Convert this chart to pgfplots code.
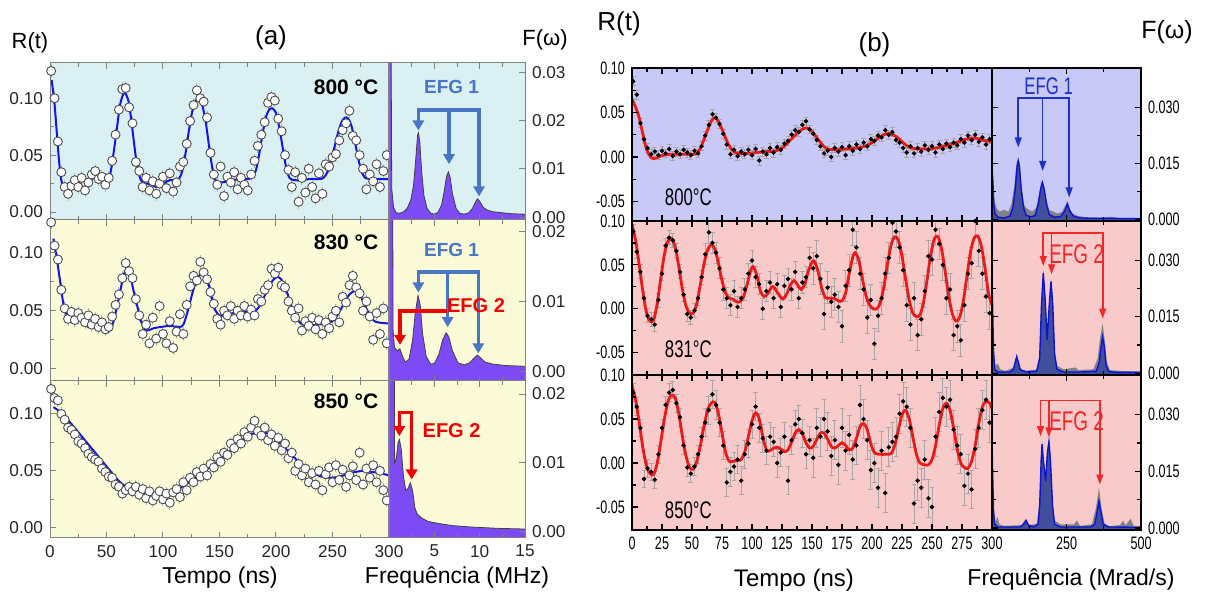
\documentclass[border=0pt]{standalone}
\usepackage{fontspec}
\setmainfont{Liberation Sans}
\newfontfamily\narrowfont[FakeStretch=0.7]{Liberation Sans}
\usepackage{pgfplots}
\usepackage{pgfplotstable}
\pgfplotsset{compat=1.18}
\usetikzlibrary{arrows.meta}

% colours
\definecolor{bgcyan}{RGB}{218,240,242}
\definecolor{bgyellow}{RGB}{252,251,216}
\definecolor{bglav}{RGB}{201,201,248}
\definecolor{bgpink}{RGB}{249,202,202}
\definecolor{specpurple}{RGB}{125,75,245}
\definecolor{fitblue}{RGB}{20,20,230}
\definecolor{fitred}{RGB}{235,25,25}
\definecolor{arrblue}{RGB}{72,118,196}
\definecolor{arrred}{RGB}{240,0,0}
\definecolor{ebarA}{RGB}{170,192,176}
\definecolor{ebarB}{RGB}{170,165,165}
\definecolor{specgray}{RGB}{128,128,135}
\definecolor{specnavy}{RGB}{55,70,160}
\definecolor{specline}{RGB}{10,20,210}
\definecolor{arrblueB}{RGB}{30,50,200}
\definecolor{arrredB}{RGB}{240,40,40}

% ---------- spectra F(omega), panel (a), MHz ----------
\pgfplotstableread[row sep=\\]{nu F\\
0 0.05\\ 0.2 0.05\\ 0.3 0.006\\ 0.5 0.002\\ 0.8 0.0009\\ 1.2 0.0008\\ 1.6 0.0011\\ 2.0 0.0018\\ 2.4 0.0035\\ 2.7 0.0065\\ 2.95 0.012\\ 3.15 0.0170\\ 3.25 0.0175\\ 3.4 0.0155\\ 3.6 0.0095\\ 3.85 0.0045\\ 4.2 0.0018\\ 4.6 0.0008\\ 5.0 0.0006\\ 5.4 0.0010\\ 5.8 0.0025\\ 6.1 0.0055\\ 6.35 0.0085\\ 6.55 0.0094\\ 6.75 0.0082\\ 7.0 0.0048\\ 7.4 0.0018\\ 7.8 0.0008\\ 8.3 0.0006\\ 8.8 0.0009\\ 9.2 0.0018\\ 9.5 0.0030\\ 9.75 0.0038\\ 10.0 0.0033\\ 10.4 0.0020\\ 10.9 0.0014\\ 11.5 0.0011\\ 12.5 0.0009\\ 13.5 0.0007\\ 15 0.0006\\
}\specAa
\pgfplotstableread[row sep=\\]{nu F\\
0 0.05\\ 0.35 0.05\\ 0.45 0.006\\ 0.6 0.0035\\ 0.9 0.0030\\ 1.2 0.0033\\ 1.5 0.0022\\ 1.8 0.0014\\ 2.2 0.0018\\ 2.6 0.0045\\ 2.9 0.0085\\ 3.2 0.0109\\ 3.45 0.0095\\ 3.7 0.0055\\ 4.1 0.0022\\ 4.6 0.0011\\ 5.0 0.0012\\ 5.5 0.0025\\ 5.9 0.0045\\ 6.3 0.0056\\ 6.6 0.0050\\ 7.0 0.0030\\ 7.6 0.0013\\ 8.3 0.0010\\ 8.9 0.0013\\ 9.4 0.0020\\ 9.75 0.0024\\ 10.1 0.0020\\ 10.6 0.0014\\ 11.5 0.0011\\ 13 0.0009\\ 15 0.0008\\
}\specAb
\pgfplotstableread[row sep=\\]{nu F\\
0 0.05\\ 0.55 0.05\\ 0.62 0.010\\ 0.8 0.0105\\ 1.0 0.013\\ 1.15 0.0134\\ 1.35 0.012\\ 1.6 0.0080\\ 1.85 0.0060\\ 2.1 0.0063\\ 2.35 0.0071\\ 2.6 0.0060\\ 2.85 0.0035\\ 3.1 0.0026\\ 3.6 0.0020\\ 4.3 0.0015\\ 5.5 0.0012\\ 7 0.0009\\ 9 0.0007\\ 12 0.0005\\ 15 0.0004\\
}\specAc

% ---------- spectra F(omega), panel (b), Mrad/s ----------
\pgfplotstableread[row sep=\\]{w F\\
0 0.015\\ 3 0.011\\ 8 0.005\\ 15 0.003\\ 25 0.002\\ 40 0.0025\\ 55 0.002\\ 65 0.004\\ 75 0.009\\ 83 0.0155\\ 88 0.0163\\ 93 0.015\\ 99 0.009\\ 107 0.004\\ 115 0.003\\ 125 0.0025\\ 135 0.002\\ 148 0.003\\ 157 0.006\\ 164 0.0095\\ 169 0.0104\\ 175 0.009\\ 183 0.005\\ 192 0.0025\\ 205 0.002\\ 220 0.0015\\ 235 0.002\\ 245 0.0035\\ 253 0.0049\\ 260 0.003\\ 270 0.0015\\ 290 0.0008\\ 320 0.0005\\ 360 0.0004\\ 400 0.0006\\ 420 0.0003\\ 500 0.0003\\
}\specBaGray
\pgfplotstableread[row sep=\\]{w F\\
0 0.014\\ 3 0.010\\ 6 0.004\\ 10 0.0015\\ 20 0.0005\\ 40 0.0003\\ 60 0.0008\\ 70 0.003\\ 78 0.008\\ 84 0.014\\ 88 0.0156\\ 92 0.014\\ 98 0.008\\ 106 0.003\\ 115 0.001\\ 130 0.0006\\ 145 0.001\\ 155 0.004\\ 163 0.008\\ 169 0.0098\\ 175 0.008\\ 183 0.004\\ 192 0.0012\\ 210 0.0005\\ 230 0.0007\\ 243 0.002\\ 253 0.004\\ 262 0.002\\ 275 0.0007\\ 300 0.0003\\ 340 0.0002\\ 400 0.0002\\ 500 0.0001\\
}\specBaFit
\pgfplotstableread[row sep=\\]{w F\\
0 0.026\\ 3 0.014\\ 6 0.005\\ 12 0.002\\ 20 0.0025\\ 28 0.001\\ 45 0.0006\\ 72 0.0015\\ 83 0.005\\ 92 0.0015\\ 110 0.0006\\ 150 0.001\\ 160 0.005\\ 166 0.019\\ 172 0.0275\\ 178 0.021\\ 185 0.010\\ 192 0.019\\ 198 0.025\\ 204 0.019\\ 210 0.006\\ 218 0.002\\ 240 0.001\\ 280 0.0015\\ 290 0.0008\\ 340 0.001\\ 355 0.004\\ 362 0.009\\ 371 0.0132\\ 378 0.009\\ 385 0.003\\ 395 0.0008\\ 430 0.0006\\ 500 0.0004\\
}\specBbGray
\pgfplotstableread[row sep=\\]{w F\\
0 0.025\\ 2 0.018\\ 5 0.006\\ 9 0.001\\ 20 0.0003\\ 60 0.0003\\ 72 0.001\\ 78 0.003\\ 83 0.0044\\ 88 0.003\\ 95 0.0008\\ 120 0.0003\\ 150 0.0005\\ 160 0.004\\ 166 0.018\\ 172 0.0267\\ 178 0.020\\ 185 0.0088\\ 192 0.018\\ 198 0.0244\\ 204 0.018\\ 210 0.005\\ 218 0.001\\ 240 0.0003\\ 300 0.0003\\ 350 0.0005\\ 360 0.003\\ 366 0.007\\ 371 0.0096\\ 377 0.007\\ 383 0.002\\ 392 0.0004\\ 420 0.0002\\ 500 0.0002\\
}\specBbFit
\pgfplotstableread[row sep=\\]{w F\\
0 0.024\\ 3 0.012\\ 6 0.004\\ 12 0.0015\\ 18 0.003\\ 25 0.001\\ 40 0.0006\\ 100 0.0008\\ 114 0.0025\\ 125 0.0008\\ 150 0.0012\\ 160 0.007\\ 165 0.019\\ 168 0.023\\ 172 0.019\\ 180 0.0135\\ 186 0.021\\ 191 0.0235\\ 196 0.019\\ 203 0.007\\ 210 0.002\\ 230 0.001\\ 275 0.001\\ 285 0.002\\ 295 0.0006\\ 335 0.001\\ 348 0.005\\ 359 0.0106\\ 368 0.005\\ 378 0.0012\\ 395 0.0005\\ 430 0.0008\\ 440 0.002\\ 448 0.0007\\ 465 0.0025\\ 475 0.0006\\ 500 0.0004\\
}\specBcGray
\pgfplotstableread[row sep=\\]{w F\\
0 0.023\\ 2 0.015\\ 5 0.005\\ 9 0.001\\ 20 0.0003\\ 95 0.0003\\ 105 0.001\\ 114 0.002\\ 122 0.0008\\ 140 0.0003\\ 155 0.001\\ 160 0.006\\ 165 0.018\\ 168 0.0222\\ 172 0.018\\ 180 0.0124\\ 186 0.020\\ 191 0.0228\\ 196 0.018\\ 203 0.006\\ 210 0.001\\ 230 0.0003\\ 330 0.0003\\ 345 0.001\\ 352 0.004\\ 359 0.0071\\ 366 0.004\\ 373 0.001\\ 390 0.0003\\ 500 0.0002\\
}\specBcFit

\pgfplotsset{
  base/.style={scale only axis, anchor=north west, axis on top, tick align=inside,
    scaled x ticks=false, scaled y ticks=false,
    /pgf/number format/assume math mode=true},
  pa/.style={base, axis line style={draw=black!50, line width=0.5pt},
    every tick/.style={black!50, line width=0.5pt},
    major tick length=3pt, minor tick length=1.8pt,
    tick label style={font=\fontsize{8.6}{10}\selectfont, text=black!85}},
  ra/.style={pa, width=169.5pt, xmin=0, xmax=300, xtick={0,50,...,300},
    minor x tick num=1, xtick pos=both, ytick={0,0.05,0.1}, minor y tick num=1,
    ytick pos=left,
    yticklabel style={/pgf/number format/.cd, fixed, fixed zerofill, precision=2}},
  fa/.style={pa, width=68pt, xmin=0, xmax=15, xtick={0,5,10,15},
    minor x tick num=1, xtick pos=both, ytick={0,0.01,0.02,0.03},
    ytick pos=right, yticklabel pos=right,
    yticklabel style={/pgf/number format/.cd, fixed, fixed zerofill, precision=2}},
  pb/.style={base, axis line style={black, line width=0.9pt},
    every tick/.style={black, line width=0.6pt},
    major tick length=3pt, minor tick length=2pt,
    tick label style={font=\narrowfont\fontsize{9}{10}\selectfont}},
  rb/.style={pb, width=180pt, xmin=0, xmax=300, xtick={0,25,...,300},
    minor x tick num=1, xtick pos=both, ytick={-0.05,0,0.05,0.1},
    minor y tick num=1, ytick pos=left,
    yticklabel style={/pgf/number format/.cd, fixed, fixed zerofill, precision=2}},
  fb/.style={pb, width=74.5pt, xmin=0, xmax=500, xtick={0,250,500},
    minor x tick num=1, xtick pos=both, ytick={0,0.015,0.03}, minor y tick num=1,
    ytick pos=both, yticklabel pos=right, ymin=-0.0005, ymax=0.0405,
    yticklabel style={/pgf/number format/.cd, fixed, fixed zerofill, precision=3}},
  dataA/.style={only marks, mark=*, mark size=2.25pt,
    mark options={draw=black!70, fill=white, line width=0.45pt},
    error bars/y dir=both, error bars/y fixed=0.006,
    error bars/error bar style={ebarA, line width=0.5pt}, error bars/error mark=none},
  fitA/.style={fitblue, line width=1pt, smooth, no marks},
  dataB/.style={only marks, mark=*, mark size=0.9pt,
    mark options={draw=black, fill=black},
    error bars/y dir=both,
    error bars/error bar style={ebarB, line width=0.4pt},
    error bars/error mark options={rotate=90, mark size=1.2pt, ebarB, line width=0.4pt}},
  fitB/.style={fitred, line width=1.4pt, smooth, no marks},
  specA/.style={fill=specpurple, draw=none},
  specAline/.style={black!75, line width=0.4pt, no marks},
}
\tikzset{
  arrA/.style={line width=1.8pt, line join=miter, arrows={-Triangle[width=5.6pt,length=5pt]}},
  arrB/.style={line width=0.8pt, line join=miter, arrows={-Triangle[width=3.4pt,length=5pt]}},
}

\begin{document}
\begin{tikzpicture}
\path[use as bounding box] (0,0) rectangle (602.5pt,298.5pt);

% =================== panel (a) ===================
% 800 C
\begin{axis}[ra, at={(25pt,267pt)}, height=78.5pt, ymin=-0.007, ymax=0.131,
  xticklabels={}, axis background/.style={fill=bgcyan}]
\addplot[dataA] coordinates {(1,0.124)(4,0.100)(7,0.062)(10,0.035)(13,0.022)(16,0.016)(19,0.023)(22,0.028)(25,0.022)(28,0.030)(31,0.019)(34,0.026)(37,0.033)(40,0.036)(43,0.029)(46,0.031)(49,0.024)(52,0.030)(55,0.045)(58,0.068)(61,0.090)(64,0.108)(67,0.109)(70,0.092)(73,0.078)(76,0.044)(79,0.036)(82,0.022)(85,0.030)(88,0.019)(91,0.027)(94,0.016)(97,0.025)(100,0.031)(103,0.021)(106,0.034)(109,0.018)(112,0.026)(115,0.040)(118,0.044)(121,0.060)(124,0.080)(127,0.094)(130,0.107)(133,0.100)(136,0.097)(139,0.083)(142,0.052)(145,0.033)(148,0.024)(151,0.040)(154,0.014)(157,0.031)(160,0.026)(163,0.035)(166,0.020)(169,0.030)(172,0.024)(175,0.019)(178,0.033)(181,0.045)(184,0.058)(187,0.068)(190,0.079)(193,0.096)(196,0.101)(199,0.098)(202,0.082)(205,0.071)(208,0.050)(211,0.037)(214,0.022)(217,0.035)(220,0.009)(223,0.030)(226,0.017)(229,0.038)(232,0.022)(235,0.012)(238,0.034)(241,0.016)(244,0.042)(247,0.040)(250,0.048)(253,0.051)(256,0.063)(259,0.072)(262,0.078)(265,0.089)(268,0.067)(271,0.063)(274,0.050)(277,0.038)(280,0.020)(283,0.033)(286,0.027)(289,0.042)(292,0.022)(295,0.036)(298,0.050)};
\addplot[fitA] coordinates {(1.5,0.116)(4,0.095)(6,0.07)(8,0.045)(10,0.028)(13,0.019)(16,0.017)(19,0.020)(22,0.024)(25,0.026)(28,0.023)(31,0.021)(34,0.024)(38,0.030)(41,0.032)(44,0.030)(47,0.027)(50,0.026)(53,0.032)(56,0.050)(59,0.072)(62,0.094)(65,0.104)(67,0.104)(70,0.095)(73,0.072)(76,0.048)(79,0.032)(82,0.026)(86,0.025)(90,0.024)(94,0.022)(98,0.023)(102,0.026)(106,0.028)(110,0.028)(114,0.029)(117,0.036)(120,0.052)(123,0.072)(126,0.089)(129,0.098)(132,0.099)(135,0.093)(138,0.078)(141,0.056)(144,0.037)(147,0.027)(152,0.026)(157,0.027)(162,0.028)(168,0.029)(174,0.029)(178,0.030)(182,0.036)(185,0.050)(188,0.068)(191,0.083)(194,0.090)(197,0.091)(200,0.087)(203,0.074)(206,0.056)(209,0.039)(212,0.030)(216,0.028)(222,0.028)(230,0.029)(238,0.029)(242,0.030)(246,0.036)(249,0.046)(252,0.058)(255,0.070)(258,0.079)(261,0.083)(264,0.082)(267,0.075)(270,0.061)(273,0.046)(276,0.035)(279,0.030)(285,0.029)(300,0.029)};
\node[font=\bfseries\fontsize{10.5}{12}\selectfont] at (axis cs:262,0.11) {800 °C};
\end{axis}
\begin{axis}[fa, at={(194.5pt,267pt)}, height=78.5pt, ymin=-0.0006, ymax=0.032,
  xticklabels={}, axis background/.style={fill=bgcyan}]
\addplot[specA] table[x=nu,y=F] {\specAa} |- (axis cs:0,-0.01) -- cycle;
\addplot[specAline] table[x=nu,y=F] {\specAa};
\draw[arrA, arrblue, arrows={Triangle[width=5.6pt,length=5pt]-Triangle[width=5.6pt,length=5pt]}]
  (axis cs:3.24,0.0180) -- (axis cs:3.24,0.0223) -- (axis cs:9.93,0.0223) -- (axis cs:9.93,0.0043);
\draw[arrA, arrblue] (axis cs:6.62,0.0223) -- (axis cs:6.62,0.0110);
\node[font=\bfseries\fontsize{9.5}{11}\selectfont, text=arrblue] at (axis cs:6.9,0.0270) {EFG 1};
\end{axis}

% 830 C
\begin{axis}[ra, at={(25pt,188.5pt)}, height=80.5pt, ymin=-0.0104, ymax=0.128,
  xticklabels={}, axis background/.style={fill=bgyellow}]
\addplot[dataA] coordinates {(1,0.126)(4,0.106)(7,0.094)(10,0.068)(13,0.052)(16,0.043)(19,0.049)(22,0.042)(25,0.048)(28,0.044)(31,0.040)(34,0.046)(37,0.038)(40,0.043)(43,0.036)(46,0.040)(49,0.034)(52,0.036)(55,0.045)(58,0.055)(61,0.064)(64,0.078)(67,0.091)(70,0.084)(73,0.078)(76,0.060)(79,0.046)(82,0.030)(85,0.038)(88,0.022)(91,0.044)(94,0.026)(97,0.054)(100,0.030)(103,0.022)(106,0.041)(109,0.018)(112,0.032)(115,0.047)(118,0.030)(121,0.055)(124,0.071)(127,0.080)(130,0.076)(133,0.092)(136,0.083)(139,0.077)(142,0.066)(145,0.056)(148,0.043)(151,0.038)(154,0.050)(157,0.046)(160,0.054)(163,0.043)(166,0.050)(169,0.046)(172,0.054)(175,0.045)(178,0.051)(181,0.046)(184,0.060)(187,0.058)(190,0.068)(193,0.072)(196,0.086)(199,0.082)(202,0.087)(205,0.072)(208,0.070)(211,0.058)(214,0.050)(217,0.044)(220,0.052)(223,0.033)(226,0.041)(229,0.037)(232,0.044)(235,0.034)(238,0.042)(241,0.030)(244,0.040)(247,0.035)(250,0.045)(253,0.050)(256,0.040)(259,0.062)(262,0.057)(265,0.072)(268,0.080)(271,0.070)(274,0.065)(277,0.050)(280,0.058)(283,0.045)(286,0.025)(289,0.048)(292,0.030)(295,0.052)(298,0.022)};
\addplot[fitA] coordinates {(3,0.112)(6,0.095)(9,0.075)(12,0.055)(15,0.046)(18,0.043)(22,0.044)(26,0.043)(30,0.039)(34,0.036)(38,0.037)(42,0.038)(46,0.036)(50,0.032)(53,0.033)(56,0.040)(59,0.052)(62,0.066)(65,0.080)(68,0.086)(71,0.080)(74,0.067)(77,0.055)(80,0.043)(83,0.035)(86,0.033)(92,0.035)(98,0.036)(106,0.037)(114,0.036)(118,0.038)(122,0.050)(126,0.065)(130,0.077)(134,0.082)(137,0.081)(140,0.074)(143,0.062)(146,0.051)(150,0.046)(156,0.046)(162,0.048)(168,0.049)(176,0.049)(182,0.050)(186,0.055)(190,0.063)(194,0.071)(198,0.077)(202,0.079)(206,0.075)(210,0.065)(214,0.053)(218,0.044)(222,0.039)(228,0.037)(236,0.038)(244,0.039)(250,0.041)(255,0.047)(260,0.056)(265,0.064)(270,0.067)(274,0.064)(278,0.056)(282,0.048)(286,0.042)(290,0.040)(300,0.039)};
\node[font=\bfseries\fontsize{10.5}{12}\selectfont] at (axis cs:262,0.109) {830 °C};
\end{axis}
\begin{axis}[fa, at={(194.5pt,188.5pt)}, height=80.5pt, ymin=-0.0013, ymax=0.0217,
  xticklabels={}, axis background/.style={fill=bgyellow}]
\addplot[specA] table[x=nu,y=F] {\specAb} |- (axis cs:0,-0.01) -- cycle;
\addplot[specAline] table[x=nu,y=F] {\specAb};
\draw[arrA, arrblue, arrows={Triangle[width=5.6pt,length=5pt]-Triangle[width=5.6pt,length=5pt]}]
  (axis cs:3.24,0.01135) -- (axis cs:3.24,0.01425) -- (axis cs:9.85,0.01425) -- (axis cs:9.85,0.00265);
\draw[arrA, arrblue] (axis cs:6.47,0.01425) -- (axis cs:6.47,0.0064);
\draw[arrA, arrred] (axis cs:6.36,0.0087) -- (axis cs:1.21,0.0087) -- (axis cs:1.21,0.00386);
\node[font=\bfseries\fontsize{9.5}{11}\selectfont, text=arrblue] at (axis cs:6.9,0.0174) {EFG 1};
\node[font=\bfseries\fontsize{10}{11}\selectfont, text=arrred] at (axis cs:9.6,0.0094) {EFG 2};
\end{axis}

% 850 C
\begin{axis}[ra, at={(25pt,108pt)}, height=78.5pt, ymin=-0.009, ymax=0.129,
  axis background/.style={fill=bgyellow}]
\addplot[dataA] coordinates {(1,0.122)(4,0.114)(7,0.112)(10,0.100)(13,0.095)(16,0.088)(19,0.086)(22,0.082)(25,0.076)(28,0.074)(31,0.070)(34,0.065)(37,0.062)(40,0.060)(43,0.058)(46,0.052)(49,0.049)(52,0.045)(55,0.044)(58,0.038)(61,0.036)(64,0.030)(67,0.033)(70,0.036)(73,0.032)(76,0.036)(79,0.029)(82,0.034)(85,0.026)(88,0.032)(91,0.024)(94,0.028)(97,0.032)(100,0.025)(103,0.030)(106,0.022)(109,0.031)(112,0.034)(115,0.027)(118,0.040)(121,0.033)(124,0.044)(127,0.040)(130,0.049)(133,0.045)(136,0.052)(139,0.046)(142,0.056)(145,0.053)(148,0.062)(151,0.058)(154,0.066)(157,0.064)(160,0.074)(163,0.070)(166,0.078)(169,0.074)(172,0.084)(175,0.080)(178,0.088)(181,0.094)(184,0.085)(187,0.081)(190,0.088)(193,0.077)(196,0.082)(199,0.072)(202,0.079)(205,0.068)(208,0.074)(211,0.061)(214,0.066)(217,0.050)(220,0.056)(223,0.046)(226,0.052)(229,0.040)(232,0.048)(235,0.038)(238,0.050)(241,0.033)(244,0.047)(247,0.053)(250,0.040)(253,0.055)(256,0.042)(259,0.051)(262,0.036)(265,0.046)(268,0.054)(271,0.042)(274,0.066)(277,0.038)(280,0.052)(283,0.044)(286,0.055)(289,0.040)(292,0.050)(295,0.033)(298,0.024)};
\addplot[fitA] coordinates {(3,0.106)(10,0.101)(20,0.090)(30,0.078)(40,0.066)(50,0.054)(60,0.042)(70,0.034)(80,0.030)(90,0.029)(100,0.029)(110,0.032)(120,0.038)(130,0.045)(140,0.052)(150,0.059)(160,0.068)(170,0.077)(180,0.083)(186,0.084)(192,0.083)(200,0.078)(210,0.068)(220,0.058)(230,0.050)(240,0.045)(250,0.044)(260,0.046)(270,0.049)(278,0.050)(285,0.049)(292,0.048)(300,0.046)};
\node[font=\bfseries\fontsize{10.5}{12}\selectfont] at (axis cs:262,0.111) {850 °C};
\end{axis}
\begin{axis}[fa, at={(194.5pt,108pt)}, height=78.5pt, ymin=-0.0009, ymax=0.0219,
  xticklabels={,5,10,15}, axis background/.style={fill=bgyellow}]
\addplot[specA] table[x=nu,y=F] {\specAc} |- (axis cs:0,-0.01) -- cycle;
\addplot[specAline] table[x=nu,y=F] {\specAc};
\draw[arrA, arrred, arrows={Triangle[width=5.6pt,length=5pt]-Triangle[width=5.6pt,length=5pt]}]
  (axis cs:1.14,0.0139) -- (axis cs:1.14,0.01733) -- (axis cs:2.5,0.01733) -- (axis cs:2.5,0.0076);
\node[font=\bfseries\fontsize{10}{11}\selectfont, text=arrred] at (axis cs:6.9,0.01464) {EFG 2};
\end{axis}

\node[font=\fontsize{11}{12}\selectfont] at (15pt,277.25pt) {R(t)};
\node[font=\fontsize{13}{14}\selectfont] at (135.5pt,279.75pt) {(a)};
\node[font=\fontsize{11}{12}\selectfont] at (272.5pt,278.5pt) {F(ω)};
\node[font=\fontsize{11.5}{13}\selectfont] at (110pt,9.5pt) {Tempo (ns)};
\node[font=\fontsize{11.5}{13}\selectfont] at (228.5pt,9.5pt) {Frequência (MHz)};

% =================== panel (b) ===================
% 800 C
\begin{axis}[rb, at={(316pt,264.5pt)}, height=76.5pt, ymin=-0.072, ymax=0.1,
  xticklabels={}, axis background/.style={fill=bglav}]
\addplot[dataB, error bars/y fixed=0.005] coordinates {(1,0.085)(4,0.070)(7,0.038)(10,0.020)(13,0.010)(16,0.003)(19,0.006)(22,0.002)(25,0.007)(28,0.004)(31,0.009)(34,0.001)(37,0.006)(40,0.003)(43,0.008)(46,0.005)(49,0.002)(52,0.007)(55,0.004)(58,0.012)(61,0.024)(64,0.036)(67,0.048)(70,0.044)(73,0.037)(76,0.026)(79,0.014)(82,0.003)(85,0.008)(88,0.001)(91,0.006)(94,0.003)(97,0.008)(100,0.002)(103,0.009)(106,-0.004)(109,0.006)(112,0.003)(115,0.010)(118,0.005)(121,0.011)(124,0.008)(127,0.015)(130,0.018)(133,0.025)(136,0.030)(139,0.028)(142,0.036)(145,0.040)(148,0.031)(151,0.026)(154,0.019)(157,0.012)(160,0.004)(163,0.007)(166,0.000)(169,0.010)(172,0.006)(175,0.011)(178,0.002)(181,0.012)(184,0.007)(187,0.014)(190,0.009)(193,0.016)(196,0.012)(199,0.020)(202,0.018)(205,0.024)(208,0.022)(211,0.030)(214,0.025)(217,0.028)(220,0.019)(223,0.016)(226,0.010)(229,0.005)(232,0.012)(235,0.004)(238,0.010)(241,0.006)(244,0.013)(247,0.008)(250,0.012)(253,0.005)(256,0.014)(259,0.009)(262,0.015)(265,0.011)(268,0.016)(271,0.013)(274,0.020)(277,0.016)(280,0.024)(283,0.019)(286,0.025)(289,0.017)(292,0.022)(295,0.014)(298,0.020)};
\addplot[fitB] coordinates {(0,0.065)(3,0.056)(6,0.044)(9,0.026)(12,0.009)(15,0.001)(18,-0.002)(22,0.000)(26,0.002)(32,0.003)(40,0.003)(48,0.003)(54,0.004)(58,0.013)(62,0.027)(66,0.040)(69,0.044)(72,0.040)(76,0.028)(80,0.015)(84,0.007)(88,0.004)(96,0.004)(104,0.005)(112,0.006)(120,0.007)(126,0.011)(132,0.019)(138,0.027)(143,0.032)(147,0.032)(151,0.027)(155,0.020)(159,0.013)(163,0.009)(170,0.008)(178,0.009)(186,0.010)(194,0.012)(200,0.016)(206,0.022)(212,0.026)(216,0.026)(221,0.022)(226,0.016)(231,0.011)(237,0.009)(245,0.009)(253,0.010)(260,0.012)(268,0.015)(276,0.019)(282,0.021)(287,0.021)(292,0.019)(300,0.017)};
\node[font=\narrowfont\fontsize{12}{13}\selectfont] at (axis cs:47,-0.045) {800°C};
\end{axis}
\begin{axis}[fb, at={(496pt,264.5pt)}, height=76.5pt, xticklabels={},
  axis background/.style={fill=bglav}]
\addplot[fill=specgray, draw=none] table[x=w,y=F] {\specBaGray} |- (axis cs:0,-0.01) -- cycle;
\addplot[fill=specnavy, fill opacity=0.85, draw=none] table[x=w,y=F] {\specBaFit} |- (axis cs:0,-0.01) -- cycle;
\addplot[specline, line width=0.7pt, no marks] table[x=w,y=F] {\specBaFit};
\draw[arrB, arrblueB, arrows={Triangle[width=3.4pt,length=5pt]-Triangle[width=3.4pt,length=5pt]}]
  (axis cs:88,0.0192) -- (axis cs:88,0.0324) -- (axis cs:259,0.0324) -- (axis cs:259,0.0058);
\draw[arrB, arrblueB] (axis cs:170,0.0324) -- (axis cs:170,0.0129);
\node[font=\narrowfont\fontsize{12}{13}\selectfont, text=arrblueB] at (axis cs:190,0.0355) {EFG 1};
\end{axis}

% 831 C
\begin{axis}[rb, at={(316pt,188pt)}, height=77pt, ymin=-0.0755, ymax=0.1,
  xticklabels={}, axis background/.style={fill=bgpink}]
\addplot[dataB, error bars/y explicit] table[row sep=\\, x index=0, y index=1, y error index=2] {
1 0.088 0.008\\ 4 0.065 0.008\\ 7 0.042 0.008\\ 10 0.012 0.008\\ 13 -0.008 0.008\\ 16 -0.012 0.008\\ 19 -0.018 0.008\\ 22 0.010 0.008\\ 25 0.040 0.008\\ 28 0.072 0.008\\ 31 0.081 0.008\\ 34 0.078 0.008\\ 37 0.066 0.008\\ 40 0.042 0.008\\ 43 0.016 0.008\\ 46 -0.006 0.008\\ 49 -0.010 0.008\\ 52 -0.002 0.008\\ 55 0.012 0.008\\ 58 0.036 0.008\\
61 0.062 0.012\\ 64 0.087 0.012\\ 67 0.075 0.012\\ 70 0.064 0.012\\ 73 0.046 0.012\\ 76 0.022 0.012\\ 79 0.012 0.012\\ 82 0.004 0.012\\ 85 0.020 0.012\\ 88 0.002 0.012\\ 91 0.012 0.012\\ 94 0.022 0.012\\ 97 0.040 0.012\\ 100 0.055 0.012\\ 103 0.036 0.012\\ 106 0.028 0.012\\ 109 0.000 0.012\\ 112 0.020 0.012\\ 115 0.030 0.012\\ 118 0.012 0.012\\ 121 0.028 0.012\\ 124 0.002 0.012\\ 127 0.026 0.012\\ 130 0.034 0.012\\ 133 0.022 0.012\\ 136 0.042 0.012\\ 139 0.012 0.012\\ 142 0.030 0.012\\ 145 0.036 0.012\\ 148 0.058 0.012\\
151 0.046 0.018\\ 154 0.060 0.018\\ 157 0.034 0.018\\ 160 -0.006 0.018\\ 163 0.024 0.018\\ 166 0.008 0.018\\ 169 0.016 0.018\\ 172 0.002 0.018\\ 175 -0.020 0.018\\ 178 0.026 0.018\\ 181 0.044 0.018\\ 184 0.090 0.018\\ 187 0.070 0.018\\ 190 0.040 0.018\\ 193 0.022 0.018\\ 196 -0.010 0.018\\ 199 0.010 0.018\\ 202 -0.040 0.018\\ 205 -0.008 0.018\\ 208 0.012 0.018\\ 211 0.040 0.018\\ 214 0.058 0.018\\ 217 0.098 0.018\\ 220 0.088 0.018\\ 223 0.070 0.018\\ 226 0.044 0.018\\ 229 0.004 0.018\\ 232 -0.018 0.018\\ 235 0.012 0.018\\ 238 -0.030 0.018\\ 241 -0.012 0.018\\ 244 0.020 0.018\\ 247 0.060 0.018\\ 250 0.056 0.018\\ 253 0.090 0.018\\ 256 0.074 0.018\\ 259 0.050 0.018\\ 262 0.012 0.018\\ 265 0.022 0.018\\ 268 -0.030 0.018\\ 271 -0.020 0.018\\ 274 -0.036 0.018\\ 277 0.004 0.018\\ 280 0.040 0.018\\ 283 0.052 0.018\\ 286 0.100 0.018\\ 289 0.066 0.018\\ 292 0.040 0.018\\ 295 0.014 0.018\\ 298 -0.005 0.018\\
};
\addplot[fitB] coordinates {(0,0.096)(3,0.078)(6,0.050)(9,0.020)(12,-0.004)(15,-0.014)(18,-0.013)(21,0.006)(24,0.035)(27,0.062)(30,0.077)(33,0.080)(36,0.070)(39,0.048)(42,0.022)(45,0.003)(48,-0.005)(51,-0.005)(54,0.006)(57,0.028)(60,0.051)(63,0.067)(66,0.073)(69,0.068)(72,0.052)(75,0.032)(78,0.018)(81,0.012)(84,0.011)(87,0.008)(90,0.008)(93,0.014)(96,0.028)(99,0.044)(101,0.048)(104,0.038)(107,0.020)(110,0.014)(113,0.017)(116,0.024)(118,0.025)(121,0.019)(124,0.013)(126,0.011)(129,0.017)(132,0.027)(135,0.032)(138,0.027)(141,0.022)(144,0.028)(147,0.043)(150,0.053)(152,0.054)(155,0.043)(158,0.024)(161,0.013)(164,0.012)(168,0.012)(172,0.009)(175,0.009)(178,0.018)(181,0.040)(184,0.059)(186,0.064)(189,0.055)(192,0.034)(195,0.015)(198,0.004)(201,0.000)(204,0.000)(207,0.007)(210,0.026)(213,0.052)(216,0.073)(219,0.082)(222,0.078)(225,0.060)(228,0.034)(231,0.010)(234,-0.005)(237,-0.009)(240,-0.007)(243,0.008)(246,0.034)(249,0.062)(252,0.080)(255,0.082)(258,0.068)(261,0.042)(264,0.014)(267,-0.006)(270,-0.014)(273,-0.010)(276,0.008)(279,0.036)(282,0.064)(285,0.080)(288,0.083)(291,0.072)(294,0.048)(297,0.018)(300,0.004)};
\node[font=\narrowfont\fontsize{12}{13}\selectfont] at (axis cs:47,-0.0457) {831°C};
\end{axis}
\begin{axis}[fb, at={(496pt,188pt)}, height=77pt, xticklabels={},
  axis background/.style={fill=bgpink}]
\addplot[fill=specgray, draw=none] table[x=w,y=F] {\specBbGray} |- (axis cs:0,-0.01) -- cycle;
\addplot[fill=specnavy, fill opacity=0.85, draw=none] table[x=w,y=F] {\specBbFit} |- (axis cs:0,-0.01) -- cycle;
\addplot[specline, line width=0.7pt, no marks] table[x=w,y=F] {\specBbFit};
\draw[arrB, arrredB, arrows={Triangle[width=3.4pt,length=5pt]-Triangle[width=3.4pt,length=5pt]}]
  (axis cs:172,0.0285) -- (axis cs:172,0.0373) -- (axis cs:371.5,0.0373) -- (axis cs:371.5,0.0145);
\draw[arrB, arrredB] (axis cs:200,0.0373) -- (axis cs:200,0.0263);
\node[font=\narrowfont\fontsize{13.5}{14}\selectfont, text=arrredB] at (axis cs:284,0.0316) {EFG 2};
\end{axis}

% 850 C
\begin{axis}[rb, at={(316pt,111pt)}, height=77.5pt, ymin=-0.076, ymax=0.1,
  axis background/.style={fill=bgpink}]
\addplot[dataB, error bars/y explicit] table[row sep=\\, x index=0, y index=1, y error index=2] {
1 0.080 0.010\\ 4 0.064 0.010\\ 7 0.040 0.010\\ 10 -0.018 0.010\\ 13 -0.006 0.010\\ 16 -0.010 0.010\\ 19 -0.019 0.010\\ 22 0.010 0.010\\ 25 0.040 0.010\\ 28 0.066 0.010\\ 31 0.080 0.010\\ 34 0.083 0.010\\ 37 0.068 0.010\\ 40 0.052 0.010\\ 43 0.020 0.010\\ 46 -0.005 0.010\\ 49 -0.012 0.010\\ 52 -0.004 0.010\\ 55 0.010 0.010\\ 58 0.030 0.010\\
61 0.046 0.016\\ 64 0.060 0.016\\ 67 0.078 0.016\\ 70 0.066 0.016\\ 73 0.046 0.016\\ 76 0.020 0.016\\ 79 -0.022 0.016\\ 82 -0.010 0.016\\ 85 -0.004 0.016\\ 88 0.004 0.016\\ 91 -0.020 0.016\\ 94 0.010 0.016\\ 97 0.022 0.016\\ 100 0.044 0.016\\ 103 0.064 0.016\\ 106 0.040 0.016\\ 109 0.028 0.016\\ 112 0.014 0.016\\ 115 0.030 0.016\\ 118 0.024 0.016\\ 121 0.000 0.016\\ 124 0.012 0.016\\ 127 0.030 0.016\\ 130 -0.020 0.016\\ 133 0.026 0.016\\ 136 0.044 0.016\\ 139 0.050 0.016\\ 142 0.034 0.016\\ 145 0.010 0.016\\ 148 0.026 0.016\\
151 0.006 0.022\\ 154 0.040 0.022\\ 157 0.030 0.022\\ 160 0.050 0.022\\ 163 0.036 0.022\\ 166 0.008 0.022\\ 169 0.026 0.022\\ 172 -0.002 0.022\\ 175 0.040 0.022\\ 178 0.014 0.022\\ 181 0.032 0.022\\ 184 0.004 0.022\\ 187 0.020 0.022\\ 190 0.066 0.022\\ 193 0.050 0.022\\ 196 0.026 0.022\\ 199 -0.008 0.022\\ 202 0.000 0.022\\ 205 -0.028 0.022\\ 208 0.014 0.022\\ 211 -0.034 0.022\\ 214 0.018 0.022\\ 217 0.024 0.022\\ 220 0.030 0.022\\ 223 0.056 0.022\\ 226 0.070 0.022\\ 229 0.064 0.022\\ 232 0.040 0.022\\ 235 -0.046 0.022\\ 238 -0.020 0.022\\ 241 -0.028 0.022\\ 244 0.004 0.022\\ 247 -0.040 0.022\\ 250 -0.050 0.022\\ 253 0.030 0.022\\ 256 0.058 0.022\\ 259 0.074 0.022\\ 262 0.064 0.022\\ 265 0.072 0.022\\ 268 0.038 0.022\\ 271 0.020 0.022\\ 274 0.010 0.022\\ 277 -0.026 0.022\\ 280 -0.012 0.022\\ 283 -0.030 0.022\\ 286 0.016 0.022\\ 289 0.040 0.022\\ 292 0.060 0.022\\ 295 0.072 0.022\\ 298 0.046 0.022\\
};
\addplot[fitB] coordinates {(0,0.088)(3,0.072)(6,0.046)(9,0.018)(12,-0.003)(15,-0.012)(18,-0.013)(21,0.000)(24,0.024)(27,0.050)(30,0.070)(33,0.077)(36,0.074)(39,0.056)(42,0.030)(45,0.008)(48,-0.005)(51,-0.007)(54,0.002)(57,0.020)(60,0.042)(63,0.060)(66,0.068)(69,0.069)(72,0.056)(75,0.034)(78,0.012)(81,0.002)(84,0.002)(88,0.003)(91,0.004)(94,0.013)(97,0.030)(100,0.048)(103,0.057)(106,0.050)(109,0.030)(112,0.015)(115,0.014)(118,0.017)(121,0.018)(124,0.016)(127,0.013)(130,0.015)(133,0.024)(136,0.034)(139,0.038)(142,0.033)(145,0.023)(148,0.017)(151,0.019)(154,0.027)(157,0.034)(160,0.034)(163,0.027)(166,0.019)(169,0.017)(172,0.020)(175,0.023)(178,0.020)(181,0.015)(184,0.017)(187,0.028)(190,0.041)(193,0.045)(196,0.038)(199,0.022)(202,0.012)(206,0.010)(212,0.010)(216,0.011)(219,0.020)(222,0.038)(225,0.055)(228,0.060)(231,0.050)(234,0.030)(237,0.010)(240,0.000)(244,-0.002)(247,-0.002)(250,0.004)(253,0.020)(256,0.043)(259,0.062)(262,0.068)(265,0.060)(268,0.040)(271,0.016)(274,0.000)(277,-0.005)(280,-0.006)(283,0.002)(286,0.020)(289,0.045)(292,0.064)(295,0.070)(298,0.068)(300,0.062)};
\node[font=\narrowfont\fontsize{12}{13}\selectfont] at (axis cs:47,-0.054) {850°C};
\end{axis}
\begin{axis}[fb, at={(496pt,111pt)}, height=77.5pt, xticklabels={,250,500},
  axis background/.style={fill=bgpink}]
\addplot[fill=specgray, draw=none] table[x=w,y=F] {\specBcGray} |- (axis cs:0,-0.01) -- cycle;
\addplot[fill=specnavy, fill opacity=0.85, draw=none] table[x=w,y=F] {\specBcFit} |- (axis cs:0,-0.01) -- cycle;
\addplot[specline, line width=0.7pt, no marks] table[x=w,y=F] {\specBcFit};
\draw[arrB, arrredB, arrows={Triangle[width=3.4pt,length=5pt]-Triangle[width=3.4pt,length=5pt]}]
  (axis cs:163,0.0243) -- (axis cs:163,0.0337) -- (axis cs:362,0.0337) -- (axis cs:362,0.0115);
\draw[arrB, arrredB] (axis cs:191,0.0337) -- (axis cs:191,0.0240);
\node[font=\narrowfont\fontsize{13.5}{14}\selectfont, text=arrredB] at (axis cs:284,0.0282) {EFG 2};
\end{axis}

\node[font=\fontsize{13}{14}\selectfont] at (309.5pt,286.5pt) {R(t)};
\node[font=\fontsize{13}{14}\selectfont] at (437.25pt,276pt) {(b)};
\node[font=\fontsize{12.5}{14}\selectfont] at (583.5pt,282.5pt) {F(ω)};
\node[font=\fontsize{12}{13}\selectfont] at (397pt,8.5pt) {Tempo (ns)};
\node[font=\fontsize{11.5}{13}\selectfont] at (535.5pt,8.5pt) {Frequência (Mrad/s)};
\end{tikzpicture}
\end{document}
